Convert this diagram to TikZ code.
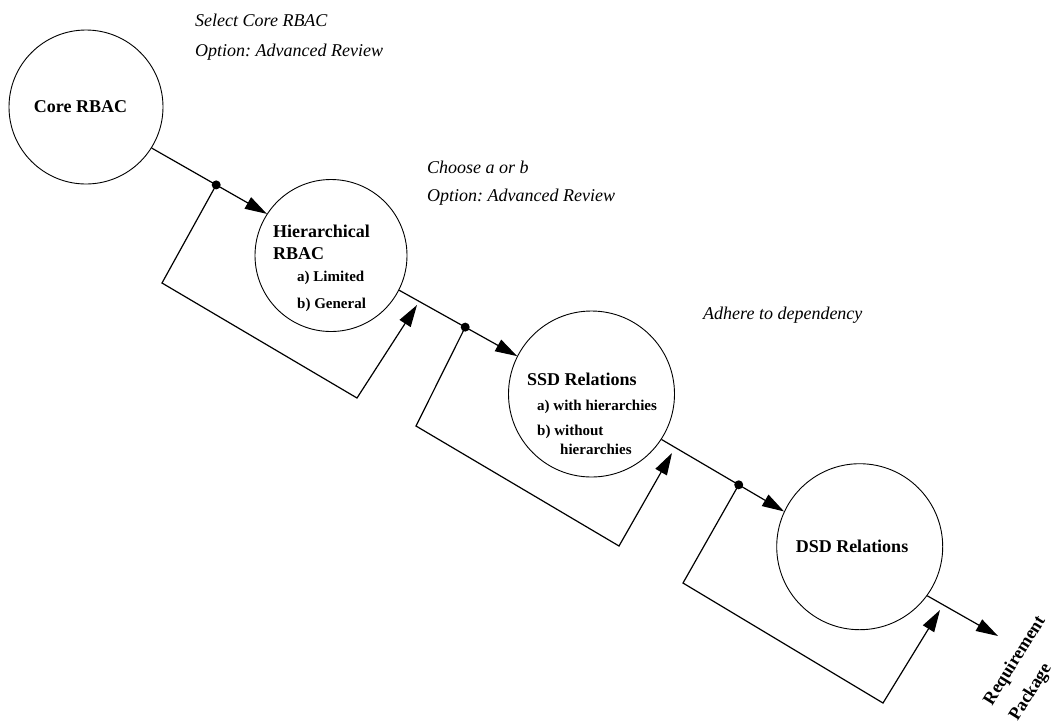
\documentclass[tikz,border=0pt]{standalone}
\usepackage{fontspec}
\setmainfont{Liberation Serif}
\usetikzlibrary{arrows.meta,calc}
\frenchspacing
\begin{document}
\begin{tikzpicture}[x=1pt,y=-1pt,
  stagecircle/.style={circle,draw,line width=0.9pt,inner sep=0pt},
  flowarrow/.style={line width=1.2pt,-{Triangle[length=22pt,width=13pt]}},
  junctiondot/.style={circle,fill,inner sep=0pt,minimum size=9pt},
  boldlabel/.style={font=\fontsize{18}{22}\selectfont\bfseries,inner sep=0pt},
  itemlabel/.style={font=\fontsize{15}{18}\selectfont\bfseries,inner sep=0pt,anchor=west},
  notelabel/.style={font=\fontsize{18}{22}\selectfont\itshape,inner sep=0pt,anchor=west}]
\useasboundingbox (0,0) rectangle (1059,724);

% stages
\node[stagecircle,minimum size=154pt] (core) at (86,107) {};
\node[stagecircle,minimum size=152pt] (hier) at (331,255.5) {};
\node[stagecircle,minimum size=166pt] (ssd) at (591.5,394) {};
\node[stagecircle,minimum size=166pt] (dsd) at (859.7,546.7) {};

% stage texts
\node[boldlabel] (coret) at (80.5,107) {Core RBAC};
\node[boldlabel,anchor=west] (hiert1) at (273,231) {Hierarchical};
\node[boldlabel,anchor=west] (hiert2) at (273,254) {RBAC};
\node[itemlabel] (hiera) at (297,278) {a) Limited};
\node[itemlabel] (hierb) at (297,305) {b) General};
\node[boldlabel,anchor=west] (ssdt) at (527,379) {SSD Relations};
\node[itemlabel] (ssda) at (537,407) {a) with hierarchies};
\node[itemlabel] (ssdb) at (537,432) {b) without};
\node[itemlabel] (ssdc) at (560,449) {hierarchies};
\node[boldlabel] (dsdt) at (852,546) {DSD Relations};

% notes
\node[notelabel] (n1) at (195,20) {Select Core RBAC};
\node[notelabel] (n2) at (195,52) {Option: Advanced Review};
\node[notelabel] (n3) at (427,167) {Choose a or b};
\node[notelabel] (n4) at (427,197) {Option: Advanced Review};
\node[notelabel] (n5) at (703,315) {Adhere to dependency};

% main flow
\coordinate (out) at (998,636);
\draw[flowarrow] (core.-32) -- (hier.147);
\draw[flowarrow] (hier.-27) -- (ssd.153);
\draw[flowarrow] (ssd.-33) -- (dsd.155);
\draw[flowarrow] (dsd.-36) -- (out);

\node[boldlabel,rotate=58,align=left] (pkg) at (1028,669) {Requirement\\[8pt]Package};

% junctions on the flow
\node[junctiondot] (j1) at ($(core.-32)!0.56!(hier.147)$) {};
\node[junctiondot] (j2) at ($(hier.-27)!0.56!(ssd.153)$) {};
\node[junctiondot] (j3) at ($(ssd.-33)!0.63!(dsd.155)$) {};

% bypass loops
\coordinate (a1) at (162,283);
\coordinate (b1) at (357,398);
\coordinate (t1) at (417,305);
\coordinate (a2) at (416,426);
\coordinate (b2) at (619,546);
\coordinate (t2) at (672,453);
\coordinate (a3) at (683,583);
\coordinate (b3) at (883,703);
\coordinate (t3) at (940,610);
\draw[flowarrow] (j1.center) -- (a1) -- (b1) -- (t1);
\draw[flowarrow] (j2.center) -- (a2) -- (b2) -- (t2);
\draw[flowarrow] (j3.center) -- (a3) -- (b3) -- (t3);
\end{tikzpicture}
\end{document}
